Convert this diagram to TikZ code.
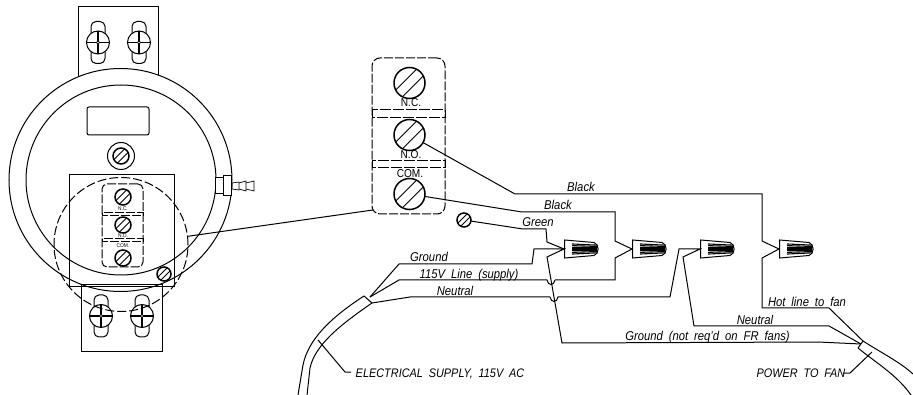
\documentclass[tikz,border=0pt]{standalone}
\usepackage{fontspec}
\setmainfont{Liberation Sans}[WordSpace=1.9, FakeStretch=0.88]
\usetikzlibrary{calc}

\tikzset{
  wirelabel/.style={font=\itshape\fontsize{12.8}{14}\selectfont, inner sep=0pt, anchor=base},
  capslabel/.style={font=\itshape\fontsize{12.4}{14}\selectfont, inner sep=0pt, anchor=base},
  termlabel/.style={font=\fontsize{11.5}{12}\selectfont, inner sep=0pt},
  tinylabel/.style={font=\fontsize{5.5}{6}\selectfont, inner sep=0pt},
  screw/.style={circle, draw, line width=1.5pt, fill=white, inner sep=0pt, outer sep=0pt, minimum size=#1,
    path picture={
      \draw[line width=.9pt]
        ($(path picture bounding box.south west)!.22!(path picture bounding box.south east)$) --
        ($(path picture bounding box.north east)!.22!(path picture bounding box.south east)$)
        ($(path picture bounding box.south west)!.22!(path picture bounding box.north west)$) --
        ($(path picture bounding box.north east)!.22!(path picture bounding box.north west)$);
    }},
  dashedbox/.style={draw, dashed, dash pattern=on 9pt off 2pt, rounded corners=#1, inner sep=0pt, outer sep=0pt},
  wirenut/.pic={
    \draw[line width=1pt] (.6,-9) -- (30,-6.5) .. controls (35.5,-5) and (35.5,5) .. (30,6.5) -- (.6,9) -- cycle;
    \foreach \ystep in {-4.8,-3.2,-1.6,0,1.6,3.2,4.8}
      \draw[line width=1.1pt] (8,\ystep*1.05) -- (33,\ystep*.8);
  },
  mountscrew/.pic={
    \draw[fill=white, rounded corners=5pt] (-7,-21) rectangle (7,21);
    \draw[fill=white] (0,0) circle (11.5);
    \draw[line width=1.8pt] (-11.5,0) -- (11.5,0) (0,-11.5) -- (0,11.5);
    \draw[fill=white, line width=.6pt] (0,0) circle (1.6);
  }
}

\begin{document}
\begin{tikzpicture}[x=1pt, y=-1pt, line width=1pt]
          \useasboundingbox (0,0) rectangle (913,395);

          \draw (78,76) -- (78,7) -- (158,7) -- (158,76);
          \pic at (98,42.5) {mountscrew};
          \pic at (139,42.5) {mountscrew};

          \node (case) [circle, draw, fill=white, inner sep=0pt, minimum size=223pt] at (120.5,180) {};
          \node (face) [circle, draw, inner sep=0pt, minimum size=190pt] at (121,180) {};
          \node (display) [draw, rounded corners=2pt, inner sep=0pt, minimum width=62pt, minimum height=28pt] at (118,121) {};
          \node (ring) [circle, draw, inner sep=0pt, minimum size=27pt] at (121,156) {};
          \node (adjust) [screw=16pt] at (121,156) {};

          \draw[fill=white] (215,178) rectangle (223,194);
          \draw[fill=white] (223,176) rectangle (231,196);
          \draw[line width=.7pt] (232,183) -- (239,182) -- (239,190) -- (232,189) -- cycle;
          \draw[line width=.7pt] (239,183) -- (246,181) -- (246,191) -- (239,189);
          \draw[line width=.7pt] (246,183) -- (254,181) -- (254,191) -- (246,189);

          \node (backing) [draw, inner sep=0pt, minimum width=105pt, minimum height=112pt] at (121.5,231) {};
          \draw (81,285) -- (162,285) -- (162,351) -- (81,351) -- cycle;
          \pic at (101,316) {mountscrew};
          \pic at (142,316) {mountscrew};

          \node (zoomring) [circle, draw, dashed, dash pattern=on 9pt off 3pt, inner sep=0pt, minimum size=134pt] at (121,244.5) {};

          \node (miniterm) [dashedbox=5pt, minimum width=41pt, minimum height=83pt] at (122.5,225.5) {};
          \draw[dashed, dash pattern=on 9pt off 2pt] (102,213) rectangle (143,216);
          \draw[dashed, dash pattern=on 9pt off 2pt] (102,239) rectangle (143,242);
          \node (mininc) [screw=16pt] at (123,197) {};
          \node (minino) [screw=16pt] at (123,225) {};
          \node (minicom) [screw=16pt] at (123,258) {};
          \node (mininclabel) [tinylabel] at (123,209) {N.C.};
          \node (mininolabel) [tinylabel] at (123,236) {N.O.};
          \node (minicomlabel) [tinylabel] at (123,246) {COM.};
          \node (earth) [screw=14pt] at (164,274) {};

          \node (bigterm) [dashedbox=8pt, minimum width=73pt, minimum height=156pt] at (408.5,136) {};
          \draw[dashed, dash pattern=on 11pt off 2pt] (372,110) rectangle (445,118);
          \draw[dashed, dash pattern=on 11pt off 2pt] (372,161) rectangle (445,168);
          \node (nc) [screw=31pt] at (409.5,83) {};
          \node (no) [screw=31pt] at (409.5,135) {};
          \node (com) [screw=31pt] at (409.5,194) {};
          \node (nclabel) [termlabel] at (411,103) {N.C.};
          \node (nolabel) [termlabel] at (411,155) {N.O.};
          \node (comlabel) [termlabel] at (410,174) {COM.};
          \node (green) [screw=14pt] at (464,220) {};

          \coordinate (nut1) at (564,249);
          \coordinate (nut2) at (632,249);
          \coordinate (nut3) at (700,249);
          \coordinate (nut4) at (779,249);
          \pic at (nut1) {wirenut};
          \pic at (nut2) {wirenut};
          \pic at (nut3) {wirenut};
          \pic at (nut4) {wirenut};

          \coordinate (leadstart) at (zoomring.7);
          \coordinate (leadend) at (373,210);
          \coordinate (supplytop) at (364,296);
          \coordinate (supplybot) at (372,303);
          \coordinate (supplymid) at (370,297);
          \coordinate (supplyend) at (298,395);
          \coordinate (supplyend2) at (307,395);
          \coordinate (fantop) at (863,341);
          \coordinate (fanbot) at (858,348);
          \coordinate (fanmid) at (861,344);
          \coordinate (hop1a) at (547,280);
          \coordinate (hop1b) at (555,280);
          \coordinate (hop2a) at (550,297);
          \coordinate (hop2b) at (558,297);
          \coordinate (supplytick) at (318,340);
          \coordinate (supplyknee) at (345,372);
          \coordinate (supplystub) at (351,372);
          \coordinate (fantick) at (872,352);
          \coordinate (fanknee) at (850,373);
          \coordinate (fanstub) at (843,373);

          \draw (leadstart) -- (leadend);
          \draw (no) -- (515,194) -- (762,194) -- (762,241) -- (nut4) -- (762,258) -- (762,308) -- (829,308) -- (fantop);
          \draw (com) -- (522,212) -- (615,212) -- (615,241) -- (nut2) -- (615,258) -- (615,280) -- (hop1b);
          \draw (hop1b) .. controls +(-1,6) and +(1,6) .. (hop1a) -- (399,280) -- (supplymid);
          \draw (green) -- (523,229) -- (546,229) -- (547,242) -- (nut1);
          \draw (supplymid) -- (399,264) -- (532,264) -- (534,249) -- (nut1) -- (547,257) -- (562,343) -- (818,342) -- (fanmid);
          \draw (supplybot) -- (410,297) -- (hop2a);
          \draw (hop2a) .. controls +(1,6) and +(-1,6) .. (hop2b) -- (670,297) -- (679,249) -- (nut3) -- (683,257) -- (694,326) -- (829,326) -- (fanmid);

          \draw (supplytop) -- (supplybot);
          \draw (supplytop) .. controls (330,318) and (308,340) .. (303,365) -- (supplyend);
          \draw (supplybot) .. controls (340,325) and (315,345) .. (310,368) -- (supplyend2);
          \draw (fantop) -- (fanbot);
          \draw (fantop) .. controls (880,352) and (900,362) .. (913,374);
          \draw (fanbot) .. controls (875,362) and (897,375) .. (911,395);
          \draw (supplytick) -- (supplyknee) -- (supplystub);
          \draw (fantick) -- (fanknee) -- (fanstub);

          \node (blackno) [wirelabel] at (581,192) {Black};
          \node (blackcom) [wirelabel] at (558,210) {Black};
          \node (greenlabel) [wirelabel] at (538,227) {Green};
          \node (groundin) [wirelabel] at (429,262) {Ground};
          \node (linein) [wirelabel] at (469,278.5) {115V Line (supply)};
          \node (neutralin) [wirelabel] at (455,295.5) {Neutral};
          \node (hotout) [wirelabel] at (807,306.5) {Hot line to fan};
          \node (neutralout) [wirelabel] at (755,324.5) {Neutral};
          \node (groundout) [wirelabel] at (707.5,340.5) {Ground (not req'd on FR fans)};
          \node (supplylabel) [capslabel] at (440,377) {ELECTRICAL SUPPLY, 115V AC};
          \node (fanlabel) [capslabel] at (801,377) {POWER TO FAN};
\end{tikzpicture}
\end{document}
